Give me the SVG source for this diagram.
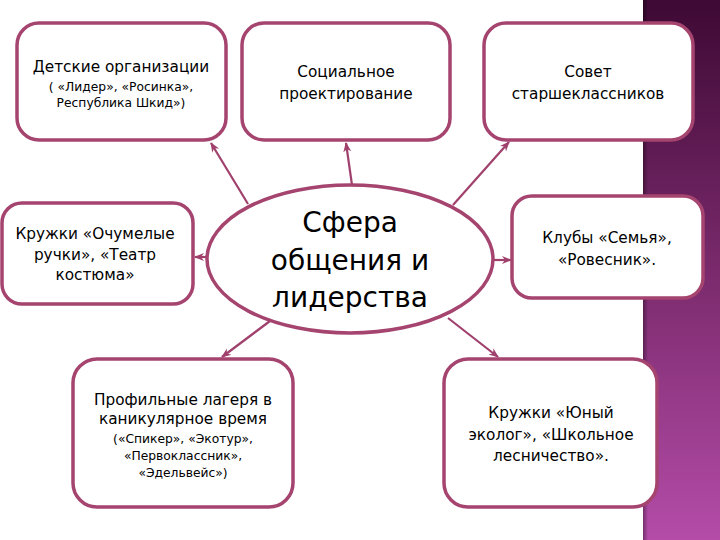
<svg xmlns="http://www.w3.org/2000/svg" width="720" height="540" viewBox="0 0 720 540">
<defs>
<linearGradient id="strip" x1="0" y1="0" x2="0" y2="1">
<stop offset="0" stop-color="#3e0934"/>
<stop offset="0.5" stop-color="#7a2a6c"/>
<stop offset="1" stop-color="#b44ca8"/>
</linearGradient>
<linearGradient id="edge" x1="0" y1="0" x2="1" y2="0">
<stop offset="0" stop-color="#000" stop-opacity="0.35"/>
<stop offset="1" stop-color="#000" stop-opacity="0"/>
</linearGradient>
<marker id="ah" viewBox="0 0 10 10" refX="9" refY="5" markerWidth="10" markerHeight="10" markerUnits="userSpaceOnUse" orient="auto">
<path d="M0,1 L10,5 L0,9 L3,5 Z" fill="#a0406c"/>
</marker>
</defs>
<style>
.box{fill:#fff;stroke:#a5446f;stroke-width:3.5}
.t{font-family:"DejaVu Sans","Noto Sans",sans-serif;fill:#000;text-anchor:middle}
.m{font-size:15.3px}
.s{font-size:12.3px}
.big{font-size:28px}
.c{stroke:#a0406c;stroke-width:2.2;fill:none;marker-end:url(#ah)}
</style>
<rect x="0" y="0" width="720" height="540" fill="#fff"/>
<rect x="643" y="0" width="77" height="540" fill="url(#strip)"/>
<rect x="643" y="0" width="5" height="540" fill="url(#edge)"/>

<g id="connectors">
<line class="c" x1="248" y1="204" x2="211" y2="143"/>
<line class="c" x1="352" y1="185" x2="346" y2="143"/>
<line class="c" x1="453" y1="205" x2="509" y2="142"/>
<line class="c" x1="208" y1="257" x2="195" y2="257"/>
<line class="c" x1="493" y1="260" x2="511" y2="260"/>
<line class="c" x1="270" y1="321" x2="222" y2="357"/>
<line class="c" x1="448" y1="318" x2="498" y2="357"/>
</g>

<g id="center">
<ellipse class="box" cx="350" cy="259" rx="143" ry="74"/>
<text class="t big" x="350" y="232">Сфера</text>
<text class="t big" x="350" y="270">общения и</text>
<text class="t big" x="350" y="307">лидерства</text>
</g>

<g id="n1">
<rect class="box" x="17" y="23" width="209" height="117" rx="22"/>
<text class="t m" x="121" y="72">Детские организации</text>
<text class="t s" x="121" y="91">( «Лидер», «Росинка»,</text>
<text class="t s" x="121" y="107">Республика Шкид»)</text>
</g>

<g id="n2">
<rect class="box" x="242" y="23" width="208" height="117" rx="22"/>
<text class="t m" x="346" y="77">Социальное</text>
<text class="t m" x="346" y="99">проектирование</text>
</g>

<g id="n3">
<rect class="box" x="484" y="23" width="209" height="117" rx="22"/>
<text class="t m" x="588" y="77">Совет</text>
<text class="t m" x="588" y="99">старшеклассников</text>
</g>

<g id="n4">
<rect class="box" x="2" y="203" width="191" height="101" rx="20"/>
<text class="t m" x="95" y="239">Кружки «Очумелые</text>
<text class="t m" x="95" y="260">ручки», «Театр</text>
<text class="t m" x="95" y="280">костюма»</text>
</g>

<g id="n5">
<rect class="box" x="512" y="196" width="191" height="102" rx="20"/>
<text class="t m" x="607" y="243">Клубы «Семья»,</text>
<text class="t m" x="607" y="265">«Ровесник».</text>
</g>

<g id="n6">
<rect class="box" x="73" y="359" width="220" height="148" rx="24"/>
<text class="t m" x="183" y="405">Профильные лагеря в</text>
<text class="t m" x="183" y="424">каникулярное время</text>
<text class="t s" x="183" y="443">(«Спикер», «Экотур»,</text>
<text class="t s" x="183" y="460">«Первоклассник»,</text>
<text class="t s" x="183" y="477">«Эдельвейс»)</text>
</g>

<g id="n7">
<rect class="box" x="444" y="359" width="213" height="148" rx="24"/>
<text class="t m" x="551" y="418">Кружки «Юный</text>
<text class="t m" x="551" y="440">эколог», «Школьное</text>
<text class="t m" x="551" y="461">лесничество».</text>
</g>
</svg>
